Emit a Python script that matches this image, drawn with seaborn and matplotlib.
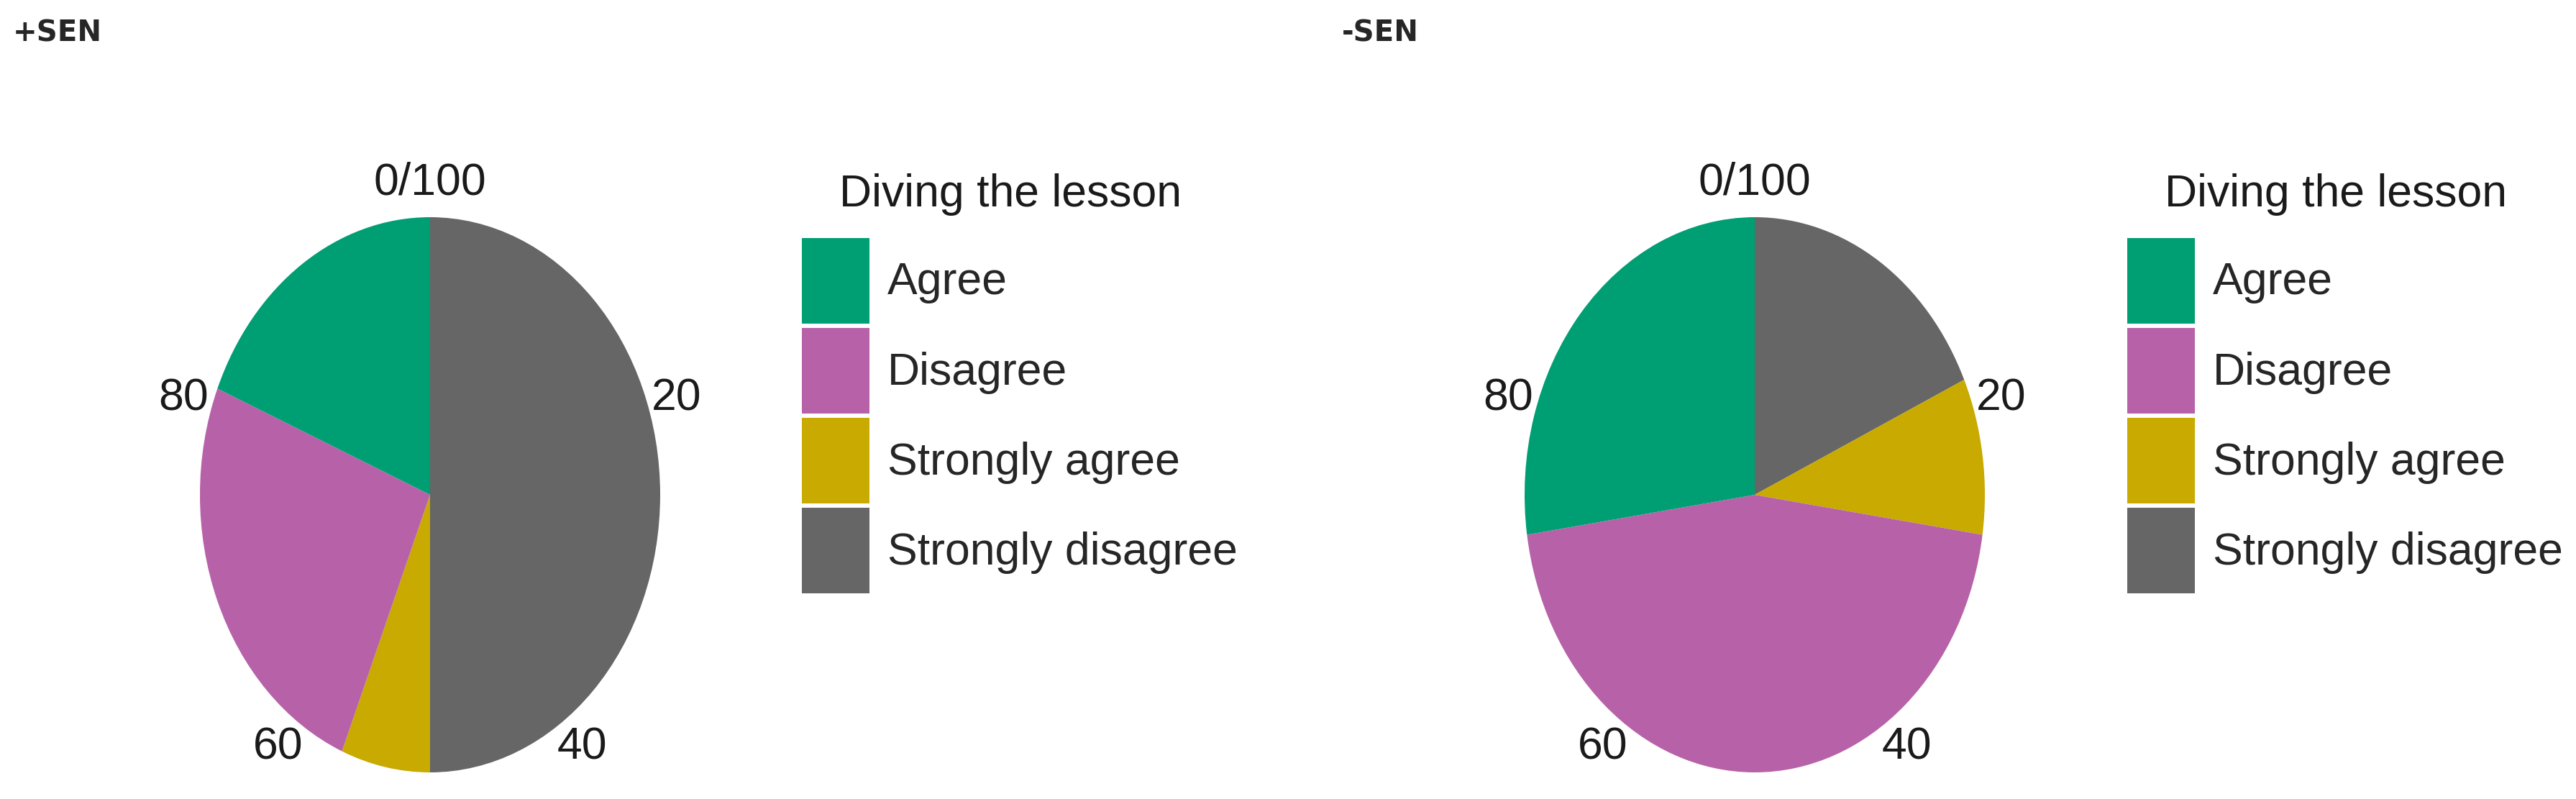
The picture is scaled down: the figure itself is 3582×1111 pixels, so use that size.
import matplotlib
matplotlib.use('Agg')
import matplotlib.pyplot as plt
from matplotlib.patches import Patch
import numpy as np
import seaborn as sns

# data (percent of respondents)
categories = ['Agree', 'Disagree', 'Strongly agree', 'Strongly disagree']
pos_sen = [18.75, 25.0, 6.25, 50.0]      # +SEN
neg_sen = [27.3, 45.4, 9.1, 18.2]        # -SEN
panel_titles = ['+SEN', '-SEN']
tick_values = [0, 20, 40, 60, 80]
tick_labels = ['0/100', '20', '40', '60', '80']
legend_title = 'Diving the lesson'

sns.set_style('white')
plt.rcParams['font.family'] = ['Liberation Sans', 'DejaVu Sans']
palette = sns.color_palette(['#009E73', '#B762A8', '#C8AA00', '#666666'])

W, H = 3582, 1111
fig = plt.figure(figsize=(W / 100, H / 100), dpi=100)

panels = [
    dict(vals=pos_sen, cx=598, title_x=18, leg_x=1115, leg_title_x=1405),
    dict(vals=neg_sen, cx=2440, title_x=1866, leg_x=2958, leg_title_x=3248),
]
rx, ry, cy = 320, 386, 688
fs = 45

for p, title in zip(panels, panel_titles):
    ax = fig.add_axes([(p['cx'] - rx) / W, (H - cy - ry) / H, 2 * rx / W, 2 * ry / H])
    # ggplot-style polar stack: clockwise from top, last level first
    ax.pie(p['vals'][::-1], colors=palette[::-1], startangle=90, counterclock=False,
           wedgeprops=dict(linewidth=0))
    ax.set_aspect('auto')
    ax.set_xlim(-1, 1)
    ax.set_ylim(-1, 1)
    ax.axis('off')
    for tv, tl in zip(tick_values, tick_labels):
        ang = np.deg2rad(tv / 100 * 360)
        ax.text(1.125 * np.sin(ang), 1.125 * np.cos(ang), tl, ha='center', va='center',
                fontsize=fs, color='#1a1a1a', clip_on=False)

    fig.text(p['title_x'] / W, 1 - 46 / H, title, ha='left', va='center', fontsize=29,
             fontweight='bold', family=['DejaVu Sans'])

    handles = [Patch(facecolor=c, edgecolor='none') for c in palette]
    fig.legend(handles, categories, loc='upper left',
               bbox_to_anchor=(p['leg_x'] / W, 1 - 331 / H), frameon=False,
               fontsize=fs, handlelength=1.5, handleheight=2.55,
               labelspacing=0.1, handletextpad=0.4, borderpad=0, borderaxespad=0)
    fig.text(p['leg_title_x'] / W, 1 - 270 / H, legend_title, ha='center', va='center',
             fontsize=fs, color='#1a1a1a')

fig.savefig('out.png', dpi=100, facecolor='white')
